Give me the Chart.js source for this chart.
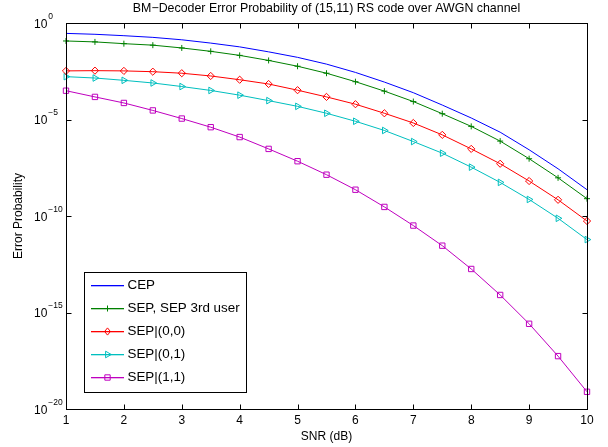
<!DOCTYPE html>
<html>
<head>
<meta charset="utf-8">
<script src="https://cdn.jsdelivr.net/npm/chart.js"></script>
<style>
  html, body { margin: 0; padding: 0; background: #ffffff; }
  #wrap { width: 608px; height: 447px; }
</style>
</head>
<body>
<div id="wrap"><canvas id="c" width="608" height="447"></canvas></div>
<script>
// ---- data ----
const snr = [1, 1.5, 2, 2.5, 3, 3.5, 4, 4.5, 5, 5.5, 6, 6.5, 7, 7.5, 8, 8.5, 9, 9.5, 10];
const cep = [2.9e-1, 2.6e-1, 2.2e-1, 1.8e-1, 1.35e-1, 9.1e-2, 5.8e-2, 3.2e-2, 1.66e-2, 7.4e-3,
             2.75e-3, 8.7e-4, 2.45e-4, 5.6e-5, 1.2e-5, 2.2e-6, 2.7e-7, 2.8e-8, 2.3e-9];
const sep = [1.17e-1, 1.05e-1, 8.5e-2, 7.1e-2, 5.1e-2, 3.4e-2, 2.1e-2, 1.15e-2, 5.75e-3, 2.5e-3,
             9.1e-4, 2.95e-4, 8.5e-5, 2.0e-5, 4.4e-6, 7.6e-7, 9.3e-8, 9.5e-9, 7.9e-10];
const sep00 = [3.3e-3, 3.4e-3, 3.3e-3, 3.0e-3, 2.5e-3, 1.8e-3, 1.15e-3, 6.9e-4, 3.3e-4, 1.48e-4,
               6.2e-5, 2.1e-5, 6.6e-6, 1.6e-6, 3.0e-7, 5.1e-8, 6.5e-9, 6.9e-10, 5.5e-11];
const sep01 = [1.66e-3, 1.41e-3, 1.07e-3, 7.8e-4, 5.1e-4, 3.2e-4, 1.82e-4, 9.5e-5, 4.8e-5, 2.1e-5,
               8.1e-6, 2.7e-6, 7.2e-7, 1.8e-7, 3.4e-8, 5.5e-9, 7.2e-10, 7.6e-11, 6.0e-12];
const sep11 = [3.1e-4, 1.48e-4, 7.2e-5, 2.95e-5, 1.12e-5, 4.0e-6, 1.23e-6, 3.0e-7, 6.9e-8, 1.38e-8,
               2.3e-9, 2.95e-10, 3.2e-11, 2.9e-12, 1.8e-13, 8.1e-15, 2.6e-16, 5.5e-18, 7.8e-20];
const seriesNames = ['CEP', 'SEP, SEP 3rd user', 'SEP|(0,0)', 'SEP|(0,1)', 'SEP|(1,1)'];
const xTicks = [1, 2, 3, 4, 5, 6, 7, 8, 9, 10];
const xTickLabels = ['1', '2', '3', '4', '5', '6', '7', '8', '9', '10'];
const yTicks = [1, 1e-5, 1e-10, 1e-15, 1e-20];
const yTickExponents = ['0', '\u22125', '\u221210', '\u221215', '\u221220'];
const titleText = 'BM\u2212Decoder Error Probability of (15,11) RS code over AWGN channel';
const xTitle = 'SNR (dB)';
const yTitle = 'Error Probability';

// ---- styles ----
const FONT = '"Liberation Sans", Arial, Helvetica, sans-serif';
const styles = [
  { color: '#0000ff', pointStyle: false, radius: 0, rotation: 0 },
  { color: '#008000', pointStyle: 'cross', radius: 3, rotation: 0 },
  { color: '#ff0000', pointStyle: 'rectRot', radius: 3.6, rotation: 0 },
  { color: '#00bfbf', pointStyle: 'triangle', radius: 3.8, rotation: 90 },
  { color: '#bf00bf', pointStyle: 'rect', radius: 3.8, rotation: 0 }
];
const seriesData = [cep, sep, sep00, sep01, sep11];

const datasets = seriesData.map((vals, k) => ({
  label: seriesNames[k],
  data: snr.map((x, i) => ({ x: x, y: vals[i] })),
  borderColor: styles[k].color,
  backgroundColor: 'rgba(0,0,0,0)',
  borderWidth: 1,
  pointStyle: styles[k].pointStyle,
  pointRadius: styles[k].radius,
  pointRotation: styles[k].rotation,
  pointBorderColor: styles[k].color,
  pointBackgroundColor: 'rgba(0,0,0,0)',
  pointBorderWidth: 1,
  tension: 0,
  fill: false,
  clip: false
}));

function drawMarker(ctx, style, x, y, color) {
  ctx.save();
  ctx.strokeStyle = color;
  ctx.lineWidth = 1;
  ctx.beginPath();
  const r = style.radius;
  if (style.pointStyle === 'cross') {
    ctx.moveTo(x - r, y); ctx.lineTo(x + r, y);
    ctx.moveTo(x, y - r); ctx.lineTo(x, y + r);
  } else if (style.pointStyle === 'rectRot') {
    ctx.moveTo(x, y - r); ctx.lineTo(x + r * 0.8, y); ctx.lineTo(x, y + r); ctx.lineTo(x - r * 0.8, y); ctx.closePath();
  } else if (style.pointStyle === 'triangle') {
    ctx.moveTo(x + r, y); ctx.lineTo(x - r * 0.5, y - r * 0.87); ctx.lineTo(x - r * 0.5, y + r * 0.87); ctx.closePath();
  } else if (style.pointStyle === 'rect') {
    const s = r * Math.SQRT1_2;
    ctx.rect(x - s, y - s, 2 * s, 2 * s);
  }
  ctx.stroke();
  ctx.restore();
}

const decor = {
  id: 'matlabDecor',
  beforeDraw(chart) {
    const ctx = chart.ctx;
    ctx.save();
    ctx.fillStyle = '#ffffff';
    ctx.fillRect(0, 0, chart.width, chart.height);
    ctx.restore();
  },
  afterDraw(chart) {
    const ctx = chart.ctx;
    const a = chart.chartArea;
    const xs = chart.scales.x, ys = chart.scales.y;
    const L = Math.round(a.left) + 0.5, R = Math.round(a.right) + 0.5;
    const T = Math.round(a.top) + 0.5, B = Math.round(a.bottom) + 0.5;
    ctx.save();
    ctx.strokeStyle = '#000000';
    ctx.lineWidth = 1;
    // frame
    ctx.strokeRect(L, T, R - L, B - T);
    // ticks (inward)
    ctx.beginPath();
    xTicks.forEach(v => {
      const px = Math.round(xs.getPixelForValue(v)) + 0.5;
      ctx.moveTo(px, B); ctx.lineTo(px, B - 5);
      ctx.moveTo(px, T); ctx.lineTo(px, T + 5);
    });
    yTicks.forEach(v => {
      const py = Math.round(ys.getPixelForValue(v)) + 0.5;
      ctx.moveTo(L, py); ctx.lineTo(L + 5, py);
      ctx.moveTo(R, py); ctx.lineTo(R - 5, py);
    });
    ctx.stroke();

    ctx.fillStyle = '#000000';
    // x tick labels
    ctx.font = '12px ' + FONT;
    ctx.textAlign = 'center';
    ctx.textBaseline = 'middle';
    xTicks.forEach((v, i) => {
      ctx.fillText(xTickLabels[i], xs.getPixelForValue(v), a.bottom + 12);
    });
    // y tick labels 10^e
    yTicks.forEach((v, i) => {
      const py = ys.getPixelForValue(v);
      ctx.font = '12px ' + FONT;
      ctx.textAlign = 'left';
      ctx.fillText('10', 34, py + 1.5);
      const w = ctx.measureText('10').width;
      ctx.font = '8.5px ' + FONT;
      ctx.fillText(yTickExponents[i], 34 + w + 1, py - 6.5);
    });
    // axis titles
    ctx.font = '12px ' + FONT;
    ctx.textAlign = 'center';
    ctx.fillText(xTitle, (a.left + a.right) / 2, 436.5);
    ctx.save();
    ctx.translate(19, (a.top + a.bottom) / 2);
    ctx.rotate(-Math.PI / 2);
    ctx.fillText(yTitle, 0, 0);
    ctx.restore();
    // title
    ctx.font = '12.4px ' + FONT;
    ctx.fillText(titleText, (a.left + a.right) / 2, 9);

    // legend
    const lx = 84.5, ly = 272.5, lw = 162, lh = 120;
    ctx.fillStyle = '#ffffff';
    ctx.fillRect(lx, ly, lw, lh);
    ctx.strokeStyle = '#000000';
    ctx.strokeRect(lx, ly, lw, lh);
    ctx.font = '13.4px ' + FONT;
    ctx.textAlign = 'left';
    seriesNames.forEach((name, k) => {
      const y = 285 + 23 * k;
      ctx.fillStyle = styles[k].color;
      ctx.fillRect(91, y, 33, 1.3);
      if (styles[k].pointStyle) drawMarker(ctx, styles[k], 107.5, y + 0.5, styles[k].color);
      ctx.fillStyle = '#000000';
      ctx.fillText(name, 127.5, y + 0.5);
    });
    ctx.restore();
  }
};

new Chart(document.getElementById('c'), {
  type: 'line',
  data: { datasets: datasets },
  options: {
    responsive: false,
    animation: false,
    devicePixelRatio: 1,
    layout: { padding: { left: 66, right: 21, top: 23, bottom: 38 } },
    scales: {
      x: { type: 'linear', min: 1, max: 10, display: false },
      y: { type: 'logarithmic', min: 1e-20, max: 1, display: false }
    },
    plugins: {
      legend: { display: false },
      title: { display: false },
      tooltip: { enabled: false }
    },
    elements: { line: { borderJoinStyle: 'miter' } }
  },
  plugins: [decor]
});
</script>
</body>
</html>
